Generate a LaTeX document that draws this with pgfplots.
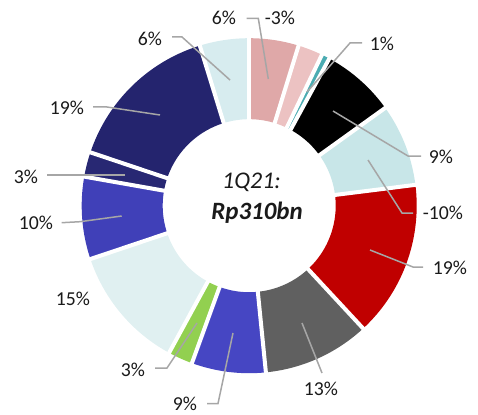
\documentclass[border=0pt]{standalone}
\usepackage{pgfplots}
\pgfplotsset{compat=1.18}
\usepackage{fontspec}
\setmainfont{Carlito}
\definecolor{c1}{HTML}{DFA8A8}
\definecolor{c2}{HTML}{ECC2C2}
\definecolor{c3}{HTML}{4BACB2}
\definecolor{c4}{HTML}{000000}
\definecolor{c5}{HTML}{C8E6E8}
\definecolor{c6}{HTML}{C00000}
\definecolor{c7}{HTML}{606060}
\definecolor{c8}{HTML}{4646C3}
\definecolor{c9}{HTML}{92D050}
\definecolor{c10}{HTML}{E0F0F1}
\definecolor{c11}{HTML}{4040B8}
\definecolor{c12}{HTML}{282873}
\definecolor{c13}{HTML}{24246E}
\definecolor{c14}{HTML}{D7ECEF}
\definecolor{leadc}{HTML}{A6A6A6}
\definecolor{txt}{HTML}{1A1A1A}
\tikzset{
  lab/.style={font=\fontsize{19.8}{23}\selectfont, text=txt, inner sep=0pt},
  leader/.style={draw=leadc, line width=1.5bp},
}
\def\cx{249.2}
\def\cy{205.7}
\def\rmid{127}
\def\total{126}
\begin{document}
\begin{tikzpicture}
\begin{axis}[
  scale only axis, width=478bp, height=415bp,
  xmin=0, xmax=478, ymin=0, ymax=415, y dir=reverse,
  hide axis, clip=false,
]
\gdef\cum{0}
\foreach \v/\col in {6/c1,3/c2,1/c3,9/c4,10/c5,19/c6,13/c7,9/c8,3/c9,15/c10,10/c11,3/c12,19/c13,6/c14}{
  \pgfmathsetmacro\angA{\cum/\total*360}
  \pgfmathsetmacro\angB{(\cum+\v)/\total*360}
  \edef\tmp{\noexpand\addplot[draw=\col, line width=81bp, line cap=butt, domain=\angA:\angB, samples=60] ({\cx+\rmid*sin(x)},{\cy-\rmid*cos(x)});}
  \tmp
  \pgfmathsetmacro\newcum{\cum+\v}
  \global\let\cum\newcum
}
\gdef\cum{0}
\foreach \v in {6,3,1,9,10,19,13,9,3,15,10,3,19,6}{
  \pgfmathsetmacro\angA{\cum/\total*360}
  \edef\tmp{\noexpand\addplot[draw=white, line width=4bp, domain=80:175, samples=2] ({\cx+x*sin(\angA)},{\cy-x*cos(\angA)});}
  \tmp
  \pgfmathsetmacro\newcum{\cum+\v}
  \global\let\cum\newcum
}
% leader lines
\addplot[leader] coordinates {(268.3,79) (258.3,18.3) (246.7,18.3)};
\addplot[leader] coordinates {(307,92) (350,43) (362,43)};
\addplot[leader] coordinates {(333,111) (408,156) (421,156)};
\addplot[leader] coordinates {(368,160) (402,213) (413,213)};
\addplot[leader] coordinates {(370,250) (413,267) (423,267)};
\addplot[leader] coordinates {(302,323) (322,373)};
\addplot[leader] coordinates {(233,333) (218,403.5) (207,403.5)};
\addplot[leader] coordinates {(197,323) (167,368) (155,368)};
\addplot[leader] coordinates {(121.7,216) (80,221.7) (61.7,222.7)};
\addplot[leader] coordinates {(125,175) (47,175)};
\addplot[leader] coordinates {(160,115) (107,107) (93,107)};
\addplot[leader] coordinates {(230,80) (182,37) (172,37)};
% labels
\node[lab] at (axis cs:224,18) {6\%};
\node[lab] at (axis cs:280,18) {-3\%};
\node[lab] at (axis cs:382,44) {1\%};
\node[lab] at (axis cs:441,157) {9\%};
\node[lab] at (axis cs:443,213) {-10\%};
\node[lab] at (axis cs:450,268) {19\%};
\node[lab] at (axis cs:321,389) {13\%};
\node[lab] at (axis cs:185,403.5) {9\%};
\node[lab] at (axis cs:133,370) {3\%};
\node[lab] at (axis cs:73,299) {15\%};
\node[lab] at (axis cs:36,223) {10\%};
\node[lab] at (axis cs:26,177) {3\%};
\node[lab] at (axis cs:67,108) {19\%};
\node[lab] at (axis cs:150,39) {6\%};
% centre text
\node[anchor=base, inner sep=0pt, text=txt, font=\fontsize{24}{28}\selectfont\itshape] at (axis cs:251.5,188.5) {1Q21:};
\node[anchor=base, inner sep=0pt, text=txt, font=\fontsize{25}{29}\selectfont\bfseries\itshape] at (axis cs:257,219) {Rp310bn};
\end{axis}
\pgfresetboundingbox
\path[use as bounding box] (current axis.south west) rectangle (current axis.north east);
\end{tikzpicture}
\end{document}
